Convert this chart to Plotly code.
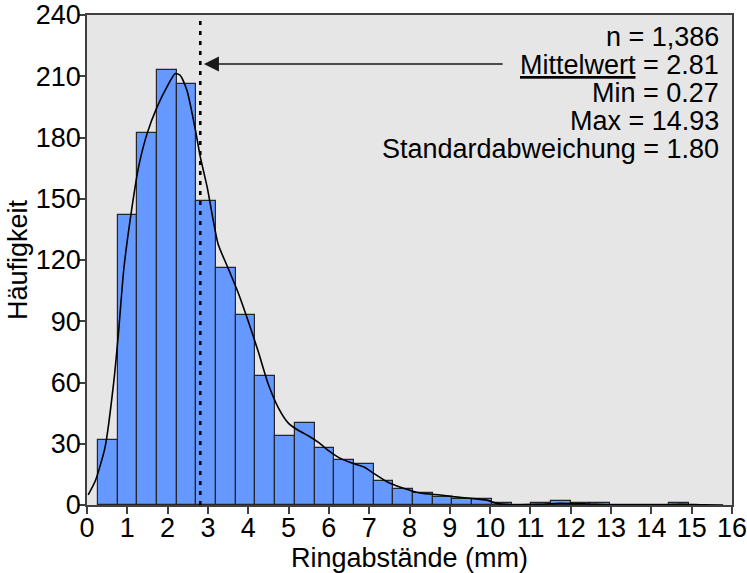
import plotly.graph_objects as go

# ---- data ----
n_obs = 1386
mean_val = 2.81
min_val = 0.27
max_val = 14.93
std_val = 1.80
n_bins = 30

counts = [32, 142, 182, 213, 206, 149, 116, 93, 63, 34,
          40, 28, 22, 20, 12, 8, 6, 4, 3, 3,
          1, 0, 1, 2, 1, 1, 0, 0, 0, 1]

kde_x = [0.03, 0.21, 0.45, 0.66, 0.78, 0.91, 1.07, 1.28, 1.49, 1.74,
         1.98, 2.19, 2.31, 2.48, 2.69, 2.81, 2.98, 3.25, 3.5, 3.75,
         4.0, 4.25, 4.5, 4.75, 5.0, 5.25, 5.5, 5.75, 6.0, 6.25,
         6.5, 6.86, 7.11, 7.44, 7.85, 8.26, 8.76, 9.09, 9.5, 9.92,
         10.17, 10.58, 11.16, 11.74, 12.4, 12.98, 13.7, 14.38, 14.71, 15.29, 15.78]
kde_y = [5, 12, 28.5, 59.6, 84, 115, 139.5, 165.6, 181.9, 195,
         204.7, 211.3, 210.5, 203, 183.6, 170.5, 155.8, 128, 116, 104,
         90, 75, 59, 47.5, 40, 36.5, 33.8, 30.5, 26.5, 23.2,
         21, 18.7, 15.5, 11.4, 8.2, 5.9, 4.9, 4.1, 3.3, 2.4,
         0.8, 0.1, 0.3, 0.8, 0.5, 0.1, 0.05, 0.1, 0.4, 0.1, 0.02]

x_ticks = list(range(0, 17))
y_ticks = [0, 30, 60, 90, 120, 150, 180, 210, 240]

stats_lines = [
    "n = 1,386",
    "<u>Mittelwert</u> = 2.81",
    "Min = 0.27",
    "Max = 14.93",
    "Standardabweichung = 1.80",
]

x_title = "Ringabstände (mm)"
y_title = "Häufigkeit"

# ---- figure ----
bw = (max_val - min_val) / n_bins
centers = [min_val + (i + 0.5) * bw for i in range(n_bins)]

FONT = "Liberation Sans, Arial, sans-serif"
FS = 27

fig = go.Figure()
fig.add_trace(go.Bar(
    x=centers, y=counts, width=[bw] * n_bins,
    marker=dict(color="#6699FF", line=dict(color="#262626", width=1.2)),
    showlegend=False,
))
fig.add_trace(go.Scatter(
    x=kde_x, y=kde_y, mode="lines",
    line=dict(color="black", width=1.6, shape="spline", smoothing=0.6),
    showlegend=False,
))

# mean line
fig.add_shape(type="line", xref="x", yref="y", x0=mean_val, x1=mean_val, y0=0, y1=240,
              line=dict(color="black", width=2.6, dash="4px,6px"))

# arrow
fig.add_annotation(x=2.9, y=216, xref="x", yref="y", ax=10.35, ay=216, axref="x", ayref="y",
                   text="", showarrow=True, arrowhead=2, arrowsize=2.0, arrowwidth=1.5,
                   arrowcolor="#1a1a1a", standoff=0)

# stats text
line_y = [229.2, 215.6, 201.9, 188.3, 174.6]
for t, yy in zip(stats_lines, line_y):
    fig.add_annotation(x=15.72, y=yy, xref="x", yref="y", text=t, showarrow=False,
                       xanchor="right", yanchor="middle",
                       font=dict(family=FONT, size=FS, color="black"))

axis_common = dict(
    showline=True, linecolor="#404040", linewidth=1.5, mirror=True,
    ticks="outside", ticklen=7, tickcolor="#404040", tickwidth=1.5,
    showgrid=False, zeroline=False, ticklabeloverflow="allow",
    tickfont=dict(family=FONT, size=FS, color="black"),
)

fig.update_layout(
    width=747, height=573,
    margin=dict(l=87, r=15, t=15, b=68),
    paper_bgcolor="white", plot_bgcolor="#E6E6E6",
    bargap=0,
    xaxis=dict(range=[0, 16], tickmode="array", tickvals=x_ticks, ticklabelstandoff=-9,
               title=dict(text=x_title, font=dict(family=FONT, size=FS, color="black"), standoff=0),
               automargin=False, **axis_common),
    yaxis=dict(range=[0, 240], tickmode="array", tickvals=y_ticks, ticklabelstandoff=-8,
               title=dict(text=y_title, font=dict(family=FONT, size=FS, color="black"), standoff=0),
               automargin=False, **axis_common),
)

fig.write_html("out.html")
